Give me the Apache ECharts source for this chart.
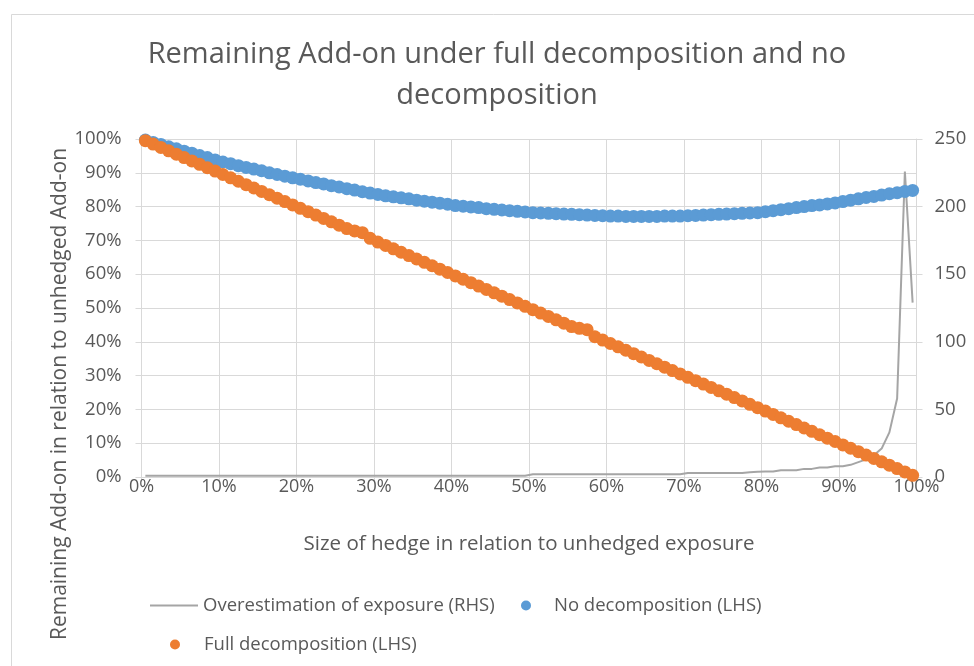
<!DOCTYPE html>
<html>
<head>
<meta charset="utf-8">
<script src="https://cdn.jsdelivr.net/npm/echarts@6/dist/echarts.min.js"></script>
<style>html,body{margin:0;padding:0;background:#fff}#c{width:974px;height:666px}</style>
</head>
<body>
<div id="c"></div>
<script>
// Hedge size (% of unhedged exposure)
var hedgeSize = [0.5,1.5,2.5,3.5,4.5,5.5,6.5,7.5,8.5,9.5,10.5,11.5,12.5,13.5,14.5,15.5,16.5,17.5,18.5,19.5,20.5,21.5,22.5,23.5,24.5,25.5,26.5,27.5,28.5,29.5,30.5,31.5,32.5,33.5,34.5,35.5,36.5,37.5,38.5,39.5,40.5,41.5,42.5,43.5,44.5,45.5,46.5,47.5,48.5,49.5,50.5,51.5,52.5,53.5,54.5,55.5,56.5,57.5,58.5,59.5,60.5,61.5,62.5,63.5,64.5,65.5,66.5,67.5,68.5,69.5,70.5,71.5,72.5,73.5,74.5,75.5,76.5,77.5,78.5,79.5,80.5,81.5,82.5,83.5,84.5,85.5,86.5,87.5,88.5,89.5,90.5,91.5,92.5,93.5,94.5,95.5,96.5,97.5,98.5,99.5];
// No decomposition (LHS, %)
var noDecomp = [99.7,99.0,98.4,97.7,97.1,96.4,95.8,95.1,94.5,93.8,93.2,92.7,92.1,91.6,91.1,90.6,90.0,89.5,89.0,88.5,88.1,87.6,87.1,86.7,86.2,85.8,85.3,84.9,84.4,84.0,83.6,83.2,82.9,82.6,82.3,81.9,81.6,81.3,81.0,80.7,80.3,80.1,79.9,79.7,79.4,79.2,79.0,78.8,78.6,78.4,78.2,78.1,78.0,77.9,77.8,77.7,77.6,77.5,77.4,77.3,77.2,77.2,77.1,77.1,77.1,77.1,77.1,77.2,77.2,77.2,77.3,77.4,77.5,77.6,77.7,77.8,77.9,78.0,78.1,78.2,78.5,78.8,79.1,79.4,79.7,80.0,80.3,80.5,80.8,81.1,81.5,81.9,82.3,82.7,83.0,83.4,83.8,84.1,84.5,84.8];
// Full decomposition (LHS, %)
var fullDecomp = [99.5,98.5,97.5,96.5,95.5,94.5,93.5,92.5,91.5,90.5,89.5,88.5,87.5,86.5,85.5,84.5,83.5,82.5,81.5,80.5,79.5,78.5,77.5,76.5,75.5,74.5,73.5,72.8,72.3,70.6,69.5,68.5,67.5,66.5,65.5,64.5,63.5,62.5,61.5,60.5,59.5,58.5,57.5,56.5,55.5,54.5,53.5,52.5,51.5,50.5,49.5,48.5,47.5,46.5,45.5,44.5,44.0,43.6,41.5,40.5,39.5,38.5,37.5,36.5,35.5,34.5,33.5,32.5,31.5,30.5,29.5,28.5,27.5,26.5,25.5,24.5,23.5,22.5,21.5,20.5,19.5,18.5,17.5,16.5,15.5,14.5,13.5,12.5,11.5,10.5,9.5,8.5,7.5,6.5,5.5,4.5,3.5,2.5,1.5,0.5];
// Overestimation of exposure (RHS)
var overEst = [1,1,1,1,1,1,1,1,1,1,1,1,1,1,1,1,1,1,1,1,1,1,1,1,1,1,1,1,1,1,1,1,1,1,1,1,1,1,1,1,1,1,1,1,1,1,1,1,1,1,2,2,2,2,2,2,2,2,2,2,2,2,2,2,2,2,2,2,2,2,3,3,3,3,3,3,3,3,3.5,3.8,4,4,5,5,5,6,6,7,7,8,8,9,11,13,16,21,33,58,226,129];

var leftTicks = [0,10,20,30,40,50,60,70,80,90,100];
var rightTicks = [0,50,100,150,200,250];

var names = ['Overestimation of exposure (RHS)','No decomposition (LHS)','Full decomposition (LHS)'];

function pairs(xs, ys){ return xs.map(function(x,i){ return [x, ys[i]]; }); }

var FONT = 'Open Sans';
var TXT = '#595959';
var GRID = '#d9d9d9';

var chart = echarts.init(document.getElementById('c'), null, {renderer:'canvas'});
chart.setOption({
  backgroundColor:'#fff',
  animation:false,
  textStyle:{fontFamily:FONT},
  title:{
    text:'Remaining Add-on under full decomposition and no\ndecomposition',
    left:497, top:34, padding:0, textAlign:'center',
    textStyle:{fontFamily:FONT, fontSize:29, fontWeight:'normal', color:TXT, lineHeight:41}
  },
  graphic:[
    {type:'rect', left:9, top:12, shape:{width:1000, height:700}, style:{fill:'none', stroke:GRID, lineWidth:1}, silent:true, z:-10},
    {type:'text', x:60, y:394, rotation:Math.PI/2, style:{text:'Remaining Add-on in relation to unhedged Add-on', fill:TXT, font:'21px "Open Sans"', textAlign:'center', textVerticalAlign:'middle'}}
  ],
  grid:{left:141.5, right:57.5, top:139, bottom:189, containLabel:false},
  legend:[
    {data:[{name:names[0], icon:'rect'}], left:150, top:596, padding:0, itemWidth:48, itemHeight:2, itemGap:0, textStyle:{fontFamily:FONT, fontSize:18.5, color:TXT}},
    {data:[names[1]], left:521, top:596, padding:0, itemWidth:10, itemHeight:10, itemGap:0, textStyle:{fontFamily:FONT, fontSize:18.5, color:TXT, padding:[0,0,0,18]}},
    {data:[names[2]], left:170, top:635, padding:0, itemWidth:10, itemHeight:10, itemGap:0, textStyle:{fontFamily:FONT, fontSize:18.5, color:TXT, padding:[0,0,0,19]}}
  ],
  xAxis:{
    type:'value', min:0, max:100, interval:10,
    name:'Size of hedge in relation to unhedged exposure', nameLocation:'middle', nameGap:57,
    nameTextStyle:{fontFamily:FONT, fontSize:20.5, color:TXT},
    axisLine:{show:true, lineStyle:{color:GRID}},
    axisTick:{show:true, length:5, lineStyle:{color:GRID}},
    splitLine:{show:true, lineStyle:{color:GRID}},
    axisLabel:{formatter:'{value}%', fontFamily:FONT, fontSize:18, color:TXT, margin:1}
  },
  yAxis:[
    {type:'value', min:0, max:100, interval:10,
     axisLine:{show:true, lineStyle:{color:GRID}},
     axisTick:{show:true, length:6, lineStyle:{color:GRID}},
     splitLine:{show:true, lineStyle:{color:GRID}},
     axisLabel:{formatter:'{value}%', fontFamily:FONT, fontSize:18.5, color:TXT, margin:20}},
    {type:'value', min:0, max:250, interval:50, position:'right',
     axisLine:{show:true, lineStyle:{color:GRID}},
     axisTick:{show:true, length:6, lineStyle:{color:GRID}},
     splitLine:{show:false},
     axisLabel:{fontFamily:FONT, fontSize:18.5, color:TXT, margin:18}}
  ],
  series:[
    {name:names[0], type:'line', yAxisIndex:1, data:pairs(hedgeSize, overEst), symbol:'none', showSymbol:false,
     lineStyle:{color:'#A5A5A5', width:2}, itemStyle:{color:'#A5A5A5'}, z:2},
    {name:names[1], type:'scatter', yAxisIndex:0, data:pairs(hedgeSize, noDecomp), symbol:'circle', symbolSize:13,
     itemStyle:{color:'#5B9BD5', opacity:1}, z:3},
    {name:names[2], type:'scatter', yAxisIndex:0, data:pairs(hedgeSize, fullDecomp), symbol:'circle', symbolSize:13,
     itemStyle:{color:'#ED7D31', opacity:1}, z:4}
  ]
});
</script>
</body>
</html>
